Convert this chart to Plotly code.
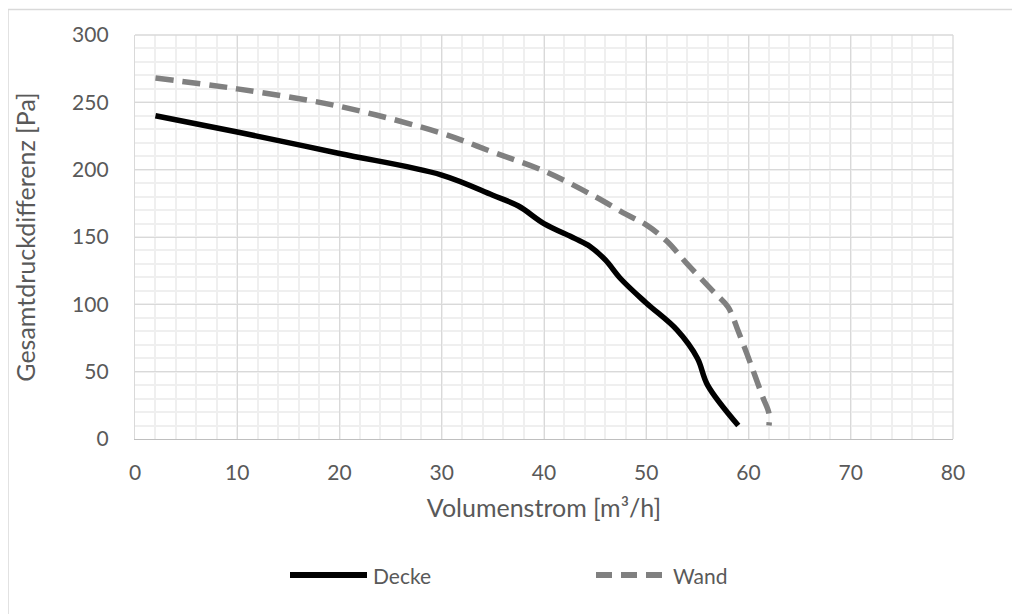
import plotly.graph_objects as go

# Data
decke_x = [2, 10, 20, 30, 35, 37.5, 40, 43, 44.5, 46, 47.5, 50, 53, 55, 56, 59]
decke_y = [240, 228, 212, 196, 181, 173, 160, 149, 143, 133, 119, 101, 81, 60, 40, 10]

wand_x = [2, 10, 20, 30, 35, 40, 45, 48, 50, 52, 54, 56.5, 58, 59, 60.2, 61.4, 62, 62]
wand_y = [268, 260, 247, 227, 213, 199, 180, 167, 159, 147, 130, 110, 98, 80, 56, 31, 19, 10]

x_ticks = [0, 10, 20, 30, 40, 50, 60, 70, 80]
y_ticks = [0, 50, 100, 150, 200, 250, 300]

series_names = ["Decke", "Wand"]
x_title = "Volumenstrom [m³/h]"
y_title = "Gesamtdruckdifferenz [Pa]"

FONT = "Lato"
TXT = "#595959"

# page body has an 8px margin, so the figure starts at (8, 8)
OFF = 8
W, H = 1020 - OFF, 614 - OFF
L, R, T, B = 127, 67, 27, 175
PW, PH = W - L - R, H - T - B


def px_x(p):
    return (p - OFF - L) / PW


def px_y(p):
    return (H - B - (p - OFF)) / PH


fig = go.Figure()
fig.add_trace(go.Scatter(
    x=decke_x, y=decke_y, mode="lines", name=series_names[0],
    line=dict(color="#000000", width=5.5, shape="spline", smoothing=1.0),
    showlegend=False,
))
fig.add_trace(go.Scatter(
    x=wand_x, y=wand_y, mode="lines", name=series_names[1],
    line=dict(color="#808080", width=5.5, shape="spline", smoothing=1.0, dash="18px,9px"),
    showlegend=False,
))

fig.update_layout(
    width=W, height=H,
    margin=dict(l=L, r=R, t=T, b=B),
    paper_bgcolor="white", plot_bgcolor="white",
    font=dict(family=FONT, size=21, color=TXT),
    xaxis=dict(
        range=[0, 80], tickvals=x_ticks, ticktext=[str(v) for v in x_ticks],
        showgrid=True, gridcolor="#d9d9d9", gridwidth=1.3,
        minor=dict(dtick=2, showgrid=True, gridcolor="#efefef", gridwidth=1.5),
        showline=True, linecolor="#bfbfbf", linewidth=1.3, mirror=False,
        zeroline=False, ticks="", ticklabelstandoff=15,
        tickfont=dict(family=FONT, size=21, color=TXT),
        title=dict(text=x_title, font=dict(family=FONT, size=25, color=TXT), standoff=16),
    ),
    yaxis=dict(
        range=[0, 300], tickvals=y_ticks, ticktext=[str(v) for v in y_ticks],
        showgrid=True, gridcolor="#d9d9d9", gridwidth=1.3,
        minor=dict(dtick=10, showgrid=True, gridcolor="#efefef", gridwidth=1.5),
        showline=True, linecolor="#d9d9d9", linewidth=1.3,
        zeroline=False, ticks="", ticklabelstandoff=21,
        tickfont=dict(family=FONT, size=21, color=TXT),
        title=dict(text=y_title, font=dict(family=FONT, size=25, color=TXT), standoff=29),
    ),
)

# right / top frame of the plot area
fig.add_shape(type="line", xref="paper", yref="paper", x0=1, x1=1, y0=0, y1=1,
              line=dict(color="#d9d9d9", width=1.3))
fig.add_shape(type="line", xref="paper", yref="paper", x0=0, x1=1, y0=1, y1=1,
              line=dict(color="#d9d9d9", width=1.3))

# outer chart border (left and top)
fig.add_shape(type="line", xref="paper", yref="paper",
              x0=px_x(6.5 + 1.5), x1=px_x(1030), y0=px_y(8.5 + 1), y1=px_y(8.5 + 1),
              line=dict(color="#d9d9d9", width=1.5))
fig.add_shape(type="line", xref="paper", yref="paper",
              x0=px_x(6.5 + 1.5), x1=px_x(6.5 + 1.5), y0=px_y(8.5 + 1), y1=px_y(640),
              line=dict(color="#d9d9d9", width=1.5))

# custom legend
ly = px_y(575)
fig.add_shape(type="line", xref="paper", yref="paper",
              x0=px_x(290), x1=px_x(367), y0=ly, y1=ly,
              line=dict(color="#000000", width=6))
fig.add_annotation(xref="paper", yref="paper", x=px_x(371), y=ly, text=series_names[0],
                   showarrow=False, xanchor="left", yanchor="middle",
                   font=dict(family=FONT, size=21, color=TXT))
fig.add_shape(type="line", xref="paper", yref="paper",
              x0=px_x(596), x1=px_x(668), y0=ly, y1=ly,
              line=dict(color="#808080", width=6, dash="16px,9px"))
fig.add_annotation(xref="paper", yref="paper", x=px_x(671), y=ly, text=series_names[1],
                   showarrow=False, xanchor="left", yanchor="middle",
                   font=dict(family=FONT, size=21, color=TXT))

fig.write_html("out.html")
